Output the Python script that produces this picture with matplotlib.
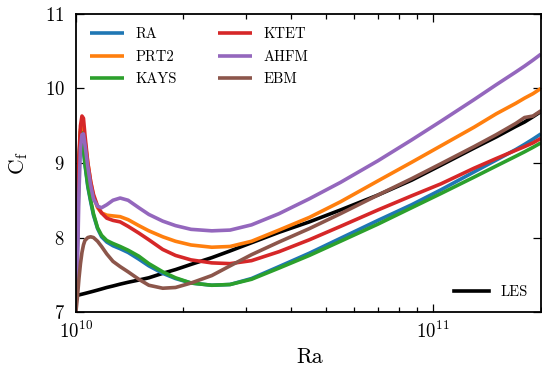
import matplotlib
matplotlib.use("Agg")
import matplotlib.pyplot as plt
import numpy as np

plt.rcParams["font.family"] = ["cmr10", "DejaVu Serif"]
plt.rcParams["mathtext.fontset"] = "cm"
plt.rcParams["axes.formatter.use_mathtext"] = True

# Rayleigh number samples (in units of 1e10)
ra = [1.00, 1.01, 1.02, 1.03, 1.04, 1.05, 1.06, 1.08, 1.10, 1.12, 1.15, 1.18,
      1.22, 1.27, 1.33, 1.40, 1.50, 1.60, 1.75, 1.90, 2.1, 2.4, 2.7, 3.1,
      3.7, 4.5, 5.5, 7.0, 8.7, 10.5, 13.0, 15.0, 17.0, 18.0, 19.0, 20.0]

cf_ra = [7.00, 7.9, 8.95, 9.38, 9.36, 9.18, 8.98, 8.68, 8.48, 8.30, 8.12, 8.01,
         7.94, 7.89, 7.85, 7.80, 7.71, 7.62, 7.52, 7.45, 7.39, 7.36, 7.37, 7.45,
         7.61, 7.79, 7.99, 8.23, 8.44, 8.64, 8.88, 9.04, 9.18, 9.25, 9.32, 9.39]
cf_prt2 = [7.00, 8.0, 9.0, 9.45, 9.50, 9.45, 9.30, 9.00, 8.75, 8.55, 8.40, 8.33,
           8.30, 8.29, 8.28, 8.24, 8.16, 8.09, 8.01, 7.95, 7.90, 7.87, 7.88, 7.95,
           8.10, 8.27, 8.48, 8.76, 9.01, 9.23, 9.48, 9.66, 9.80, 9.87, 9.93, 10.0]
cf_kays = [7.00, 8.0, 9.0, 9.42, 9.40, 9.20, 9.00, 8.70, 8.50, 8.32, 8.13, 8.03,
           7.96, 7.92, 7.88, 7.83, 7.75, 7.65, 7.54, 7.46, 7.39, 7.36, 7.37, 7.44,
           7.59, 7.76, 7.95, 8.18, 8.40, 8.59, 8.81, 8.96, 9.09, 9.15, 9.21, 9.27]
cf_ktet = [7.00, 8.3, 9.1, 9.5, 9.63, 9.60, 9.38, 9.00, 8.75, 8.58, 8.42, 8.33,
           8.26, 8.23, 8.21, 8.15, 8.06, 7.97, 7.84, 7.76, 7.70, 7.66, 7.65, 7.69,
           7.81, 7.97, 8.15, 8.37, 8.56, 8.72, 8.93, 9.06, 9.17, 9.22, 9.27, 9.33]
cf_ahfm = [7.00, 7.6, 8.6, 9.2, 9.38, 9.39, 9.25, 8.95, 8.70, 8.52, 8.42, 8.40,
           8.44, 8.50, 8.53, 8.50, 8.40, 8.31, 8.22, 8.16, 8.11, 8.09, 8.10, 8.17,
           8.32, 8.52, 8.74, 9.03, 9.31, 9.56, 9.85, 10.05, 10.22, 10.30, 10.38, 10.46]
cf_ebm = [7.00, 7.2, 7.45, 7.65, 7.80, 7.90, 7.96, 8.00, 8.01, 8.00, 7.95, 7.88,
          7.78, 7.68, 7.61, 7.54, 7.44, 7.36, 7.32, 7.33, 7.39, 7.49, 7.62, 7.77,
          7.94, 8.12, 8.32, 8.57, 8.79, 8.99, 9.22, 9.38, 9.53, 9.61, 9.63, 9.70]
cf_les = [7.22, 7.225, 7.23, 7.235, 7.24, 7.245, 7.25, 7.26, 7.27, 7.28, 7.295, 7.31,
          7.33, 7.35, 7.375, 7.40, 7.43, 7.46, 7.52, 7.57, 7.64, 7.73, 7.82, 7.93,
          8.07, 8.21, 8.37, 8.57, 8.77, 8.97, 9.20, 9.35, 9.49, 9.55, 9.62, 9.69]

models = ["RA", "PRT2", "KAYS", "KTET", "AHFM", "EBM"]
colors = ["#1f77b4", "#ff7f0e", "#2ca02c", "#d62728", "#9467bd", "#8c564b"]
series = [cf_ra, cf_prt2, cf_kays, cf_ktet, cf_ahfm, cf_ebm]

x = np.array(ra) * 1e10

fig = plt.figure(figsize=(5.42, 3.76), dpi=100)
ax = fig.add_axes([0.140, 0.170, 0.858, 0.793])

handles = []
for name, c, y in zip(models, colors, series):
    h, = ax.plot(x, y, color=c, lw=2.6, label=name, solid_capstyle="butt")
    handles.append(h)
les, = ax.plot(x, cf_les, color="black", lw=2.6, label="LES", zorder=1.5)

ax.set_xscale("log")
ax.set_xlim(1e10, 2e11)
ax.set_ylim(7, 11)
ax.set_yticks([7, 8, 9, 10, 11])
ax.set_xlabel("Ra", fontsize=15.5)
ax.set_ylabel(r"$\mathrm{C_f}$", fontsize=15.5)
ax.xaxis.set_label_coords(0.503, -0.118)
ax.yaxis.set_label_coords(-0.098, 0.5)

ax.tick_params(which="both", direction="in", top=True, right=True,
               labelsize=13.5, width=0.9)
ax.tick_params(which="major", length=6)
ax.tick_params(which="minor", length=3.5)
ax.tick_params(axis="x", pad=6.5)
ax.tick_params(axis="y", pad=8)
ax.tick_params(axis="y", which="minor", left=False, right=False)
for s in ax.spines.values():
    s.set_linewidth(1.3)

leg1 = ax.legend(handles=handles, loc="upper left", ncol=2, frameon=False,
                 fontsize=10.5, handlelength=2.35, handletextpad=0.8,
                 columnspacing=2.8, labelspacing=0.6, borderaxespad=0.55)
ax.add_artist(leg1)
ax.legend(handles=[les], loc="lower right", frameon=False, fontsize=10.5,
          handlelength=2.35, handletextpad=0.8, borderaxespad=0.5)

fig.savefig("out.png", dpi=100)
